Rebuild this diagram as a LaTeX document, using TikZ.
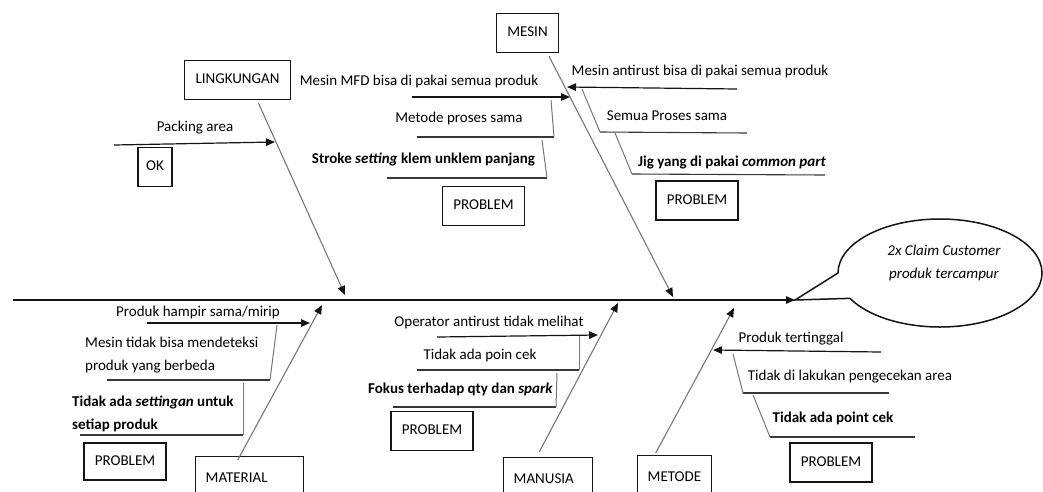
\documentclass[tikz,border=0pt]{standalone}
\usepackage{fontspec}
\setmainfont{Carlito}
\usetikzlibrary{arrows.meta,positioning,calc}
\definecolor{FBInk}{HTML}{141414}
\definecolor{FBBone}{HTML}{777777}
\newcommand{\fbfont}{\fontsize{15}{23}\selectfont}
\tikzset{
  >={Triangle[length=9pt,width=7.5pt]},
  fbbox/.style={draw=FBInk, line width=1.4pt, inner xsep=11pt, inner ysep=0pt,
    minimum height=39pt, text height=10.5pt, text depth=3pt},
  fbcat/.style={fbbox, anchor=north west, minimum height=44pt, inner xsep=10pt,
    align=left},
  fbtext/.style={inner sep=0pt, text height=10.5pt, text depth=3pt},
  fbpara/.style={fbtext, anchor=south west, align=left},
  fbspine/.style={->, line width=1.3pt, draw=FBInk},
  fbbone/.style={-{Triangle[length=9pt,width=7.5pt,color=FBInk]},
    line width=1.1pt, draw=FBBone},
  fbarrow/.style={->, line width=1.2pt, draw=FBInk},
  fbline/.style={line width=1.1pt, draw=FBInk!85},
  fblink/.style={line width=1pt, draw=FBBone},
  fbcallout/.style={line width=1.5pt, draw=FBInk, fill=white}
}

\begin{document}
\begin{tikzpicture}[x=1pt, y=-1pt, font=\fbfont]
  \useasboundingbox (0,0) rectangle (1043,491);

  % spine and effect
  \coordinate (tail) at (13,300);
  \coordinate (head) at (795,300);
  \draw[fbspine] (tail) -- (head);
  \draw[fbcallout] (head) -- (838,273)
    arc[start angle=180, end angle=512, x radius=102, y radius=54] -- cycle;
  \node[fbtext, anchor=south, align=center, font=\fbfont\itshape] (effect)
    at (944,281.5) {2x Claim Customer\\produk tercampur};

  % category boxes
  \node[fbbox] (lingk) at (237.5,80) {LINGKUNGAN};
  \node[fbbox] (mesin) at (527.5,33) {MESIN};
  \node[fbcat, text width=88pt] (mat) at (195,456) {MATERIAL};
  \node[fbcat, text width=69pt] (man) at (503,457) {MANUSIA};
  \node[fbcat, text width=54pt] (met) at (637,455) {METODE};

  % status boxes
  \node[fbbox, inner xsep=8pt] (ok) at (155,167) {OK};
  \node[fbbox] (probMes) at (483.5,206) {PROBLEM};
  \node[fbbox] (probMes2) at (697,200.5) {PROBLEM};
  \node[fbbox, minimum height=37pt] (probMat) at (125,461.5) {PROBLEM};
  \node[fbbox] (probMan) at (432,431) {PROBLEM};
  \node[fbbox] (probMet) at (831,462.5) {PROBLEM};

  % bones
  \coordinate (jLingk) at (345,295);
  \coordinate (jMesin) at (673,297);
  \coordinate (jMat) at (322,305);
  \coordinate (jMan) at (618,303);
  \coordinate (jMet) at (734,308);
  \draw[fbbone] ($(lingk.south)+(21,3)$) -- (jLingk);
  \draw[fbbone] ($(mesin.south)+(21.5,3)$) -- (jMesin);
  \draw[fbbone] ($(mat.north)+(-12,4)$) -- (jMat);
  \draw[fbbone] ($(man.north)+(-9,-5)$) -- (jMan);
  \draw[fbbone] ($(met.north)+(-19,-2)$) -- (jMet);

  % lingkungan
  \node[fbtext] (tPack) at (195,128) {Packing area};
  \coordinate (packL) at (114,145);
  \coordinate (packR) at (275,142);
  \draw[fbarrow] (packL) -- (packR);

  % mesin, left side
  \node[fbtext] (tMfd) at (419,82) {Mesin MFD bisa di pakai semua produk};
  \node[fbtext] (tProses) at (459,119) {Metode proses sama};
  \node[fbtext] (tStroke) at (423.5,160)
    {\textbf{Stroke \textit{setting} klem unklem panjang}};
  \coordinate (mfdL) at (412,97);
  \coordinate (mfdR) at (570,97);
  \coordinate (prosesL) at (417,137);
  \coordinate (prosesR) at (554,137);
  \coordinate (prosesT) at (551,100);
  \coordinate (strokeL) at (387,178);
  \coordinate (strokeR) at (547,178);
  \coordinate (strokeT) at (542,140);
  \draw[fbarrow] (mfdL) -- (mfdR);
  \draw[fbline] (prosesL) -- (prosesR);
  \draw[fblink] (prosesR) -- (prosesT);
  \draw[fbline] (strokeL) -- (strokeR);
  \draw[fblink] (strokeR) -- (strokeT);

  % mesin, right side
  \node[fbtext] (tAnti) at (700,72) {Mesin antirust bisa di pakai semua produk};
  \node[fbtext] (tSemua) at (667,117) {Semua Proses sama};
  \node[fbtext] (tJig) at (732,163)
    {\textbf{Jig yang di pakai \textit{common part}}};
  \coordinate (antiR) at (737,89);
  \coordinate (antiL) at (567,87);
  \coordinate (semuaL) at (600,132);
  \coordinate (semuaR) at (747,133);
  \coordinate (semuaT) at (582,89);
  \coordinate (jigL) at (632,174);
  \coordinate (jigR) at (825,175);
  \coordinate (jigT) at (615,133);
  \draw[fbarrow] (antiR) -- (antiL);
  \draw[fbline] (semuaL) -- (semuaR);
  \draw[fblink] (semuaL) -- (semuaT);
  \draw[fbline] (jigL) -- (jigR);
  \draw[fblink] (jigL) -- (jigT);

  % material
  \node[fbtext] (tHampir) at (198,313) {Produk hampir sama/mirip};
  \node[fbpara] (tDeteksi) at (85,373.5)
    {Mesin tidak bisa mendeteksi\\produk yang berbeda};
  \node[fbpara, font=\fbfont\bfseries] (tSetting) at (72,432.5)
    {Tidak ada \textit{settingan} untuk\\setiap produk};
  \coordinate (hampirL) at (147,323);
  \coordinate (hampirR) at (310,323);
  \coordinate (deteksiL) at (107,380);
  \coordinate (deteksiR) at (270,380);
  \coordinate (deteksiT) at (277,325);
  \coordinate (settingL) at (80,435);
  \coordinate (settingR) at (243,435);
  \coordinate (settingT) at (243,383);
  \draw[fbarrow] (hampirL) -- (hampirR);
  \draw[fbline] (deteksiL) -- (deteksiR);
  \draw[fblink] (deteksiR) -- (deteksiT);
  \draw[fbline] (settingL) -- (settingR);
  \draw[fblink] (settingR) -- (settingT);

  % manusia
  \node[fbtext] (tOperator) at (489,323) {Operator antirust tidak melihat};
  \node[fbtext] (tPoin) at (480,356) {Tidak ada poin cek};
  \node[fbtext] (tFokus) at (460.5,390)
    {\textbf{Fokus terhadap qty dan \textit{spark}}};
  \coordinate (operatorL) at (437,337);
  \coordinate (operatorR) at (598,335);
  \coordinate (poinL) at (417,370);
  \coordinate (poinR) at (579,370);
  \coordinate (poinT) at (579,336);
  \coordinate (fokusL) at (393,407);
  \coordinate (fokusR) at (556,407);
  \coordinate (fokusT) at (557,373);
  \draw[fbarrow] (operatorL) -- (operatorR);
  \draw[fbline] (poinL) -- (poinR);
  \draw[fblink] (poinR) -- (poinT);
  \draw[fbline] (fokusL) -- (fokusR);
  \draw[fblink] (fokusR) -- (fokusT);

  % metode
  \node[fbtext] (tTinggal) at (791,339) {Produk tertinggal};
  \node[fbtext] (tCek) at (850,377) {Tidak di lakukan pengecekan area};
  \node[fbtext] (tPoint) at (833,419) {\textbf{Tidak ada point cek}};
  \coordinate (tinggalR) at (881,352);
  \coordinate (tinggalL) at (713,350);
  \coordinate (cekL) at (743,393);
  \coordinate (cekR) at (889,393);
  \coordinate (cekT) at (733,354);
  \coordinate (pointL) at (770,437);
  \coordinate (pointR) at (915,437);
  \coordinate (pointT) at (753,395);
  \draw[fbarrow] (tinggalR) -- (tinggalL);
  \draw[fbline] (cekL) -- (cekR);
  \draw[fblink] (cekL) -- (cekT);
  \draw[fbline] (pointL) -- (pointR);
  \draw[fblink] (pointL) -- (pointT);
\end{tikzpicture}
\end{document}
